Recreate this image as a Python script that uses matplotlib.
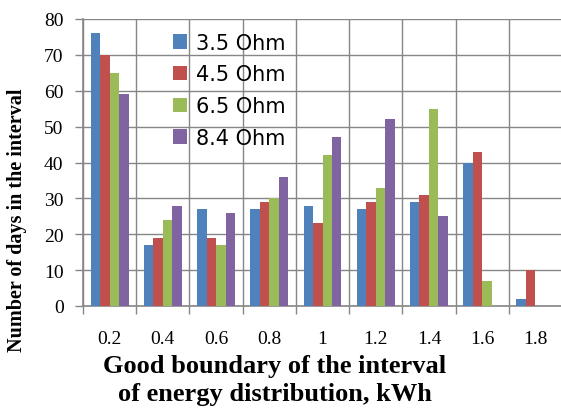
import matplotlib
matplotlib.use("Agg")
import matplotlib.pyplot as plt
from matplotlib.patches import Rectangle
import numpy as np

categories = ["0.2", "0.4", "0.6", "0.8", "1", "1.2", "1.4", "1.6", "1.8"]
series_names = ["3.5 Ohm", "4.5 Ohm", "6.5 Ohm", "8.4 Ohm"]
ohm_35 = [76, 17, 27, 27, 28, 27, 29, 40, 2]
ohm_45 = [70, 19, 19, 29, 23, 29, 31, 43, 10]
ohm_65 = [65, 24, 17, 30, 42, 33, 55, 7, 0]
ohm_84 = [59, 28, 26, 36, 47, 52, 25, 0, 0]

colors = ["#4F81BD", "#C0504D", "#9BBB59", "#8064A2"]
GRID = "#868686"
SERIF = "Liberation Serif"


def main():
    fig = plt.figure(figsize=(5.61, 4.10), dpi=100)
    ax = fig.add_axes([83 / 561, 1 - 307 / 410, 479 / 561, 287 / 410])

    x = np.arange(len(categories))
    width = 0.178
    all_vals = [ohm_35, ohm_45, ohm_65, ohm_84]
    for i, (vals, name) in enumerate(zip(all_vals, series_names)):
        ax.bar(x + (i - 1.5) * width, vals, width, color=colors[i], label=name, zorder=3)

    ax.set_xlim(-0.5, len(categories) - 0.5)
    ax.set_ylim(0, 80)
    ax.set_yticks(np.arange(0, 81, 10))

    # labels in the middle, ticks + grid on the category boundaries
    ax.set_xticks(x)
    ax.set_xticklabels(categories, fontfamily=SERIF, fontsize=14)
    ax.set_xticks(np.arange(-0.5, len(categories), 1), minor=True)
    ax.tick_params(axis="x", which="major", length=0, pad=17)
    ax.tick_params(axis="x", which="minor", length=6, color=GRID, width=1)
    ax.tick_params(axis="y", length=6, color=GRID, width=1, pad=8)
    ax.set_yticklabels([str(v) for v in range(0, 81, 10)], fontfamily=SERIF, fontsize=14)

    ax.grid(True, axis="y", which="major", color=GRID, linewidth=1, zorder=0)
    ax.grid(True, axis="x", which="minor", color=GRID, linewidth=1, zorder=0)
    for side in ["top", "right"]:
        ax.spines[side].set_visible(False)
    for side in ["left", "bottom"]:
        ax.spines[side].set_color(GRID)
        ax.spines[side].set_linewidth(1.2)

    # white block behind the legend hides the grid like in Excel
    ax.add_patch(Rectangle((0.123, 0.533), 0.348, 0.453, transform=ax.transAxes,
                           facecolor="white", edgecolor="none", zorder=1))
    ax.legend(loc="upper left", bbox_to_anchor=(0.188, 0.952), frameon=False,
              prop={"family": "DejaVu Sans", "size": 15}, handlelength=0.68,
              handleheight=0.68, handletextpad=0.4, labelspacing=0.56,
              borderaxespad=0, borderpad=0)

    ax.set_ylabel("Number of days in the interval", fontfamily=SERIF, fontsize=14.5,
                  fontweight="bold")
    ax.yaxis.set_label_coords(-0.116, 0.303)
    ax.set_xlabel("Good boundary of the interval\nof energy distribution, kWh",
                  fontfamily=SERIF, fontsize=19, fontweight="bold", linespacing=1.25)
    ax.xaxis.set_label_coords(0.40, -0.168)

    fig.savefig("out.png", dpi=100)


if __name__ == "__main__":
    main()
